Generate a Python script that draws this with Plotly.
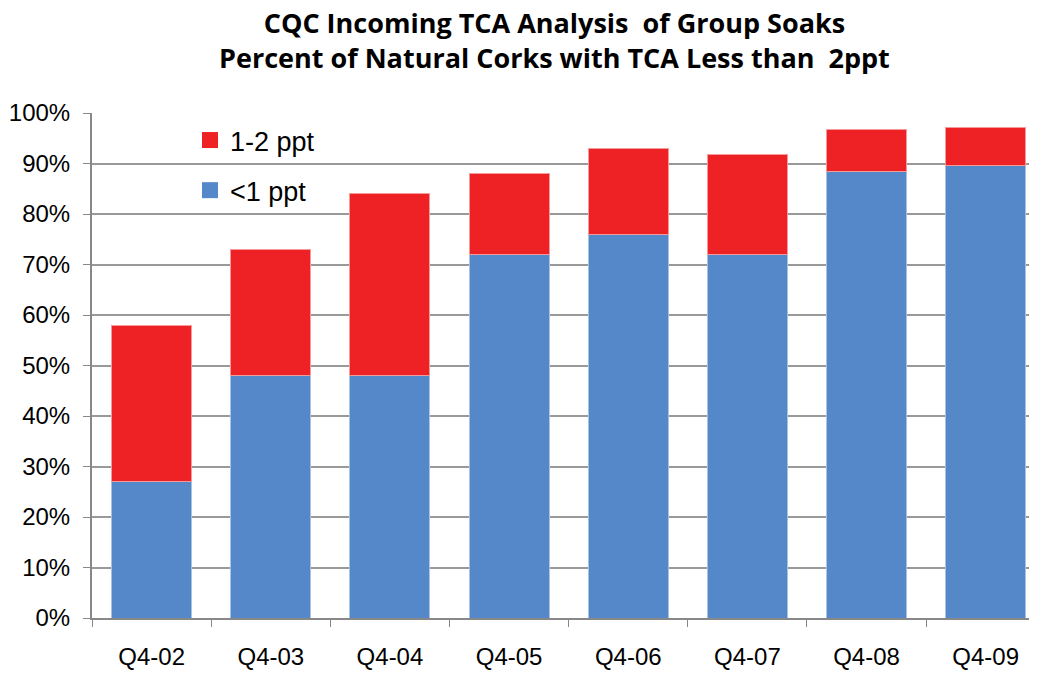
import plotly.graph_objects as go

categories = ["Q4-02", "Q4-03", "Q4-04", "Q4-05", "Q4-06", "Q4-07", "Q4-08", "Q4-09"]
below_1ppt = [27, 48, 48, 72, 76, 72, 88.5, 89.7]
one_to_two_ppt = [31, 25, 36, 16, 17, 19.8, 8.3, 7.5]
y_ticks = [0, 10, 20, 30, 40, 50, 60, 70, 80, 90, 100]
y_tick_labels = [f"{v}%" for v in y_ticks]
title_lines = ["CQC Incoming TCA Analysis  of Group Soaks",
               "Percent of Natural Corks with TCA Less than  2ppt"]

BLUE = "#5588C8"
RED = "#EE2224"
GRID = "#999999"

# the page body has an 8px margin; the figure is sized so it fills the window
W, H = 1029, 665
L, T, B = 84, 105, 55
PW, PH = W - L, H - T - B

fig = go.Figure()
fig.add_trace(go.Bar(x=categories, y=below_1ppt, name="<1 ppt", marker_color=BLUE,
                     marker_line=dict(color="#A9C2E4", width=1), width=0.671,
                     showlegend=False))
fig.add_trace(go.Bar(x=categories, y=one_to_two_ppt, name="1-2 ppt", marker_color=RED,
                     marker_line=dict(color="#F49A9A", width=1), width=0.671,
                     showlegend=False))
# legend entries
fig.add_trace(go.Scatter(x=[None], y=[None], mode="markers", name="1-2 ppt",
                         marker=dict(symbol="square", size=16, color=RED),
                         legendgroup="a"))
fig.add_trace(go.Scatter(x=[None], y=[None], mode="markers", name="<1 ppt",
                         marker=dict(symbol="square", size=16, color=BLUE),
                         legendgroup="b"))

fig.update_layout(
    barmode="stack",
    width=W, height=H,
    margin=dict(l=L, r=0, t=T, b=B),
    paper_bgcolor="white", plot_bgcolor="white",
    font=dict(family="Liberation Sans, Arial, sans-serif", size=24, color="#000000"),
    showlegend=True,
    legend=dict(x=98 / PW, y=1 - 3 / PH, xanchor="left", yanchor="top",
                traceorder="grouped", tracegroupgap=12,
                font=dict(size=27), bgcolor="rgba(0,0,0,0)", itemsizing="trace"),
)

fig.update_xaxes(range=[-0.501, 7.431], tickson="boundaries", ticks="outside",
                 ticklen=7, tickcolor="#888888", showline=True, linecolor="#888888",
                 linewidth=2, showgrid=False, tickfont=dict(size=24),
                 ticklabelstandoff=16, automargin=False)
fig.update_yaxes(range=[0, 100], tickvals=y_ticks, ticktext=y_tick_labels,
                 ticks="outside", ticklen=7, tickcolor="#888888", showline=True,
                 linecolor="#888888", linewidth=2, showgrid=True, gridcolor=GRID,
                 gridwidth=2, zeroline=False, tickfont=dict(size=24),
                 ticklabelstandoff=8, automargin=False)

fig.add_annotation(text="<br>".join(f"<b>{s}</b>" for s in title_lines),
                   xref="paper", yref="paper",
                   x=(554 - 92) / PW, y=1 + (T - (40 - 8)) / PH, xanchor="center",
                   yanchor="middle", showarrow=False, borderpad=0, align="center",
                   font=dict(family="Open Sans, sans-serif", size=27,
                             color="#000000"))

fig.write_html("out.html")
